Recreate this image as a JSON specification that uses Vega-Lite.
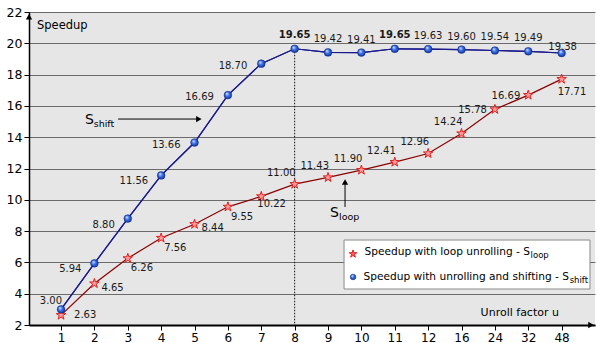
{
  "$schema": "https://vega.github.io/schema/vega-lite/v6.json",
  "width": 566,
  "height": 313,
  "autosize": {"type": "none"},
  "padding": {"left": 29, "top": 12, "right": 2, "bottom": 18},
  "background": "white",
  "config": {
    "view": {"fill": "#e6e6e6", "stroke": null},
    "text": {"font": "DejaVu Sans", "fontSize": 10, "color": "#1a1a1a"},
    "axis": {"labelFont": "DejaVu Sans"}
  },
  "resolve": {"axis": {"x": "independent", "y": "independent"}},
  "data": {"values": [
    {"u": 1, "i": 0, "loop": 2.63, "shift": 3.00},
    {"u": 2, "i": 1, "loop": 4.65, "shift": 5.94},
    {"u": 3, "i": 2, "loop": 6.26, "shift": 8.80},
    {"u": 4, "i": 3, "loop": 7.56, "shift": 11.56},
    {"u": 5, "i": 4, "loop": 8.44, "shift": 13.66},
    {"u": 6, "i": 5, "loop": 9.55, "shift": 16.69},
    {"u": 7, "i": 6, "loop": 10.22, "shift": 18.70},
    {"u": 8, "i": 7, "loop": 11.00, "shift": 19.65},
    {"u": 9, "i": 8, "loop": 11.43, "shift": 19.42},
    {"u": 10, "i": 9, "loop": 11.90, "shift": 19.41},
    {"u": 11, "i": 10, "loop": 12.41, "shift": 19.65},
    {"u": 12, "i": 11, "loop": 12.96, "shift": 19.63},
    {"u": 16, "i": 12, "loop": 14.24, "shift": 19.60},
    {"u": 24, "i": 13, "loop": 15.78, "shift": 19.54},
    {"u": 32, "i": 14, "loop": 16.69, "shift": 19.49},
    {"u": 48, "i": 15, "loop": 17.71, "shift": 19.38}
  ]},
  "layer": [
    {
      "mark": {"type": "line", "color": "#1a1a8e", "strokeWidth": 1.2},
      "encoding": {
        "x": {"field": "i", "type": "quantitative", "scale": {"domain": [-0.96, 16.0], "nice": false, "zero": false},
          "axis": {"values": [0,1,2,3,4,5,6,7,8,9,10,11,12,13,14,15], "labelExpr": "['1','2','3','4','5','6','7','8','9','10','11','12','16','24','32','48'][datum.value]", "title": null, "grid": false, "domainColor": "black", "domainWidth": 2, "tickColor": "black", "tickSize": 5, "labelFontSize": 12, "labelColor": "black", "labelPadding": 2, "labelFlush": false, "labelOverlap": false}},
        "y": {"field": "shift", "type": "quantitative", "scale": {"domain": [2, 22], "nice": false, "zero": false},
          "axis": {"values": [2,4,6,8,10,12,14,16,18,20,22], "title": null, "grid": true, "gridColor": "#6b6b6b", "gridWidth": 1, "domainColor": "black", "domainWidth": 1.5, "tickColor": "black", "tickSize": 5, "labelFontSize": 12.5, "labelColor": "black", "labelPadding": 2, "labelFlush": false, "labelOverlap": false}}
      }
    },
    {
      "transform": [{"filter": "datum.u == 8"}],
      "mark": {"type": "rule", "color": "#111111", "strokeWidth": 1, "strokeDash": [1.5, 1.5]},
      "encoding": {
        "x": {"field": "i", "type": "quantitative", "scale": {"domain": [-0.96, 16.0], "nice": false, "zero": false}, "axis": null},
        "y": {"field": "shift", "type": "quantitative", "scale": {"domain": [2, 22], "nice": false, "zero": false}, "axis": null},
        "y2": {"datum": 2}
      }
    },
    {
      "mark": {"type": "line", "color": "#1a1a8e", "strokeWidth": 1.2},
      "encoding": {
        "x": {"field": "i", "type": "quantitative", "scale": {"domain": [-0.96, 16.0], "nice": false, "zero": false}, "axis": null},
        "y": {"field": "shift", "type": "quantitative", "scale": {"domain": [2, 22], "nice": false, "zero": false}, "axis": null}
      }
    },
    {
      "mark": {"type": "line", "color": "#8b0000", "strokeWidth": 1.2},
      "encoding": {
        "x": {"field": "i", "type": "quantitative", "scale": {"domain": [-0.96, 16.0], "nice": false, "zero": false}, "axis": null},
        "y": {"field": "loop", "type": "quantitative", "scale": {"domain": [2, 22], "nice": false, "zero": false}, "axis": null}
      }
    },
    {
      "mark": {"type": "point", "shape": "M0,-1L0.223,-0.307L0.951,-0.309L0.361,0.117L0.588,0.809L0,0.38L-0.588,0.809L-0.361,0.117L-0.951,-0.309L-0.223,-0.307Z", "filled": true, "fill": "#ff9c9c", "stroke": "#e02020", "strokeWidth": 1, "size": 100, "opacity": 1},
      "encoding": {
        "x": {"field": "i", "type": "quantitative", "scale": {"domain": [-0.96, 16.0], "nice": false, "zero": false}, "axis": null},
        "y": {"field": "loop", "type": "quantitative", "scale": {"domain": [2, 22], "nice": false, "zero": false}, "axis": null}
      }
    },
    {
      "mark": {"type": "point", "shape": "circle", "filled": true, "size": 60, "opacity": 1, "stroke": "#102a80", "strokeWidth": 0.5,
        "fill": {"gradient": "radial", "x1": 0.35, "y1": 0.3, "r1": 0.02, "x2": 0.5, "y2": 0.5, "r2": 0.55, "stops": [{"offset": 0, "color": "#dfe9ff"}, {"offset": 0.45, "color": "#3d72e6"}, {"offset": 1, "color": "#0b2f9a"}]}},
      "encoding": {
        "x": {"field": "i", "type": "quantitative", "scale": {"domain": [-0.96, 16.0], "nice": false, "zero": false}, "axis": null},
        "y": {"field": "shift", "type": "quantitative", "scale": {"domain": [2, 22], "nice": false, "zero": false}, "axis": null}
      }
    },
    {
      "transform": [{"filter": {"field": "u", "oneOf": [1]}}],
      "mark": {"type": "text", "align": "right", "baseline": "middle", "dx": 1, "dy": -8},
      "encoding": {
        "x": {"field": "i", "type": "quantitative", "scale": {"domain": [-0.96, 16.0], "nice": false, "zero": false}, "axis": null},
        "y": {"field": "shift", "type": "quantitative", "scale": {"domain": [2, 22], "nice": false, "zero": false}, "axis": null},
        "text": {"field": "shift", "type": "quantitative", "format": ".2f"}
      }
    },
    {
      "transform": [{"filter": {"field": "u", "oneOf": [2, 3, 4]}}],
      "mark": {"type": "text", "align": "right", "baseline": "middle", "dx": -13, "dy": 6},
      "encoding": {
        "x": {"field": "i", "type": "quantitative", "scale": {"domain": [-0.96, 16.0], "nice": false, "zero": false}, "axis": null},
        "y": {"field": "shift", "type": "quantitative", "scale": {"domain": [2, 22], "nice": false, "zero": false}, "axis": null},
        "text": {"field": "shift", "type": "quantitative", "format": ".2f"}
      }
    },
    {
      "transform": [{"filter": {"field": "u", "oneOf": [5, 6, 7]}}],
      "mark": {"type": "text", "align": "right", "baseline": "middle", "dx": -14, "dy": 2},
      "encoding": {
        "x": {"field": "i", "type": "quantitative", "scale": {"domain": [-0.96, 16.0], "nice": false, "zero": false}, "axis": null},
        "y": {"field": "shift", "type": "quantitative", "scale": {"domain": [2, 22], "nice": false, "zero": false}, "axis": null},
        "text": {"field": "shift", "type": "quantitative", "format": ".2f"}
      }
    },
    {
      "transform": [{"filter": {"field": "u", "oneOf": [9, 10, 12, 16, 24, 32]}}],
      "mark": {"type": "text", "align": "center", "baseline": "middle", "dy": -13},
      "encoding": {
        "x": {"field": "i", "type": "quantitative", "scale": {"domain": [-0.96, 16.0], "nice": false, "zero": false}, "axis": null},
        "y": {"field": "shift", "type": "quantitative", "scale": {"domain": [2, 22], "nice": false, "zero": false}, "axis": null},
        "text": {"field": "shift", "type": "quantitative", "format": ".2f"}
      }
    },
    {
      "transform": [{"filter": {"field": "u", "oneOf": [8, 11]}}],
      "mark": {"type": "text", "align": "center", "baseline": "middle", "dy": -14, "fontWeight": "bold"},
      "encoding": {
        "x": {"field": "i", "type": "quantitative", "scale": {"domain": [-0.96, 16.0], "nice": false, "zero": false}, "axis": null},
        "y": {"field": "shift", "type": "quantitative", "scale": {"domain": [2, 22], "nice": false, "zero": false}, "axis": null},
        "text": {"field": "shift", "type": "quantitative", "format": ".2f"}
      }
    },
    {
      "transform": [{"filter": {"field": "u", "oneOf": [48]}}],
      "mark": {"type": "text", "align": "center", "baseline": "middle", "dx": 1, "dy": -6},
      "encoding": {
        "x": {"field": "i", "type": "quantitative", "scale": {"domain": [-0.96, 16.0], "nice": false, "zero": false}, "axis": null},
        "y": {"field": "shift", "type": "quantitative", "scale": {"domain": [2, 22], "nice": false, "zero": false}, "axis": null},
        "text": {"field": "shift", "type": "quantitative", "format": ".2f"}
      }
    },
    {
      "transform": [{"filter": {"field": "u", "oneOf": [1]}}],
      "mark": {"type": "text", "align": "left", "baseline": "middle", "dx": 13, "dy": 0},
      "encoding": {
        "x": {"field": "i", "type": "quantitative", "scale": {"domain": [-0.96, 16.0], "nice": false, "zero": false}, "axis": null},
        "y": {"field": "loop", "type": "quantitative", "scale": {"domain": [2, 22], "nice": false, "zero": false}, "axis": null},
        "text": {"field": "loop", "type": "quantitative", "format": ".2f"}
      }
    },
    {
      "transform": [{"filter": {"field": "u", "oneOf": [2, 5]}}],
      "mark": {"type": "text", "align": "left", "baseline": "middle", "dx": 7, "dy": 4},
      "encoding": {
        "x": {"field": "i", "type": "quantitative", "scale": {"domain": [-0.96, 16.0], "nice": false, "zero": false}, "axis": null},
        "y": {"field": "loop", "type": "quantitative", "scale": {"domain": [2, 22], "nice": false, "zero": false}, "axis": null},
        "text": {"field": "loop", "type": "quantitative", "format": ".2f"}
      }
    },
    {
      "transform": [{"filter": {"field": "u", "oneOf": [3, 4, 6]}}],
      "mark": {"type": "text", "align": "left", "baseline": "middle", "dx": 3, "dy": 10},
      "encoding": {
        "x": {"field": "i", "type": "quantitative", "scale": {"domain": [-0.96, 16.0], "nice": false, "zero": false}, "axis": null},
        "y": {"field": "loop", "type": "quantitative", "scale": {"domain": [2, 22], "nice": false, "zero": false}, "axis": null},
        "text": {"field": "loop", "type": "quantitative", "format": ".2f"}
      }
    },
    {
      "transform": [{"filter": {"field": "u", "oneOf": [7]}}],
      "mark": {"type": "text", "align": "left", "baseline": "middle", "dx": -4, "dy": 8},
      "encoding": {
        "x": {"field": "i", "type": "quantitative", "scale": {"domain": [-0.96, 16.0], "nice": false, "zero": false}, "axis": null},
        "y": {"field": "loop", "type": "quantitative", "scale": {"domain": [2, 22], "nice": false, "zero": false}, "axis": null},
        "text": {"field": "loop", "type": "quantitative", "format": ".2f"}
      }
    },
    {
      "transform": [{"filter": {"field": "u", "oneOf": [8, 9, 10, 11, 12, 16]}}],
      "mark": {"type": "text", "align": "right", "baseline": "middle", "dx": 1, "dy": -11},
      "encoding": {
        "x": {"field": "i", "type": "quantitative", "scale": {"domain": [-0.96, 16.0], "nice": false, "zero": false}, "axis": null},
        "y": {"field": "loop", "type": "quantitative", "scale": {"domain": [2, 22], "nice": false, "zero": false}, "axis": null},
        "text": {"field": "loop", "type": "quantitative", "format": ".2f"}
      }
    },
    {
      "transform": [{"filter": {"field": "u", "oneOf": [24, 32]}}],
      "mark": {"type": "text", "align": "right", "baseline": "middle", "dx": -8, "dy": 1},
      "encoding": {
        "x": {"field": "i", "type": "quantitative", "scale": {"domain": [-0.96, 16.0], "nice": false, "zero": false}, "axis": null},
        "y": {"field": "loop", "type": "quantitative", "scale": {"domain": [2, 22], "nice": false, "zero": false}, "axis": null},
        "text": {"field": "loop", "type": "quantitative", "format": ".2f"}
      }
    },
    {
      "transform": [{"filter": {"field": "u", "oneOf": [48]}}],
      "mark": {"type": "text", "align": "left", "baseline": "middle", "dx": -4, "dy": 13},
      "encoding": {
        "x": {"field": "i", "type": "quantitative", "scale": {"domain": [-0.96, 16.0], "nice": false, "zero": false}, "axis": null},
        "y": {"field": "loop", "type": "quantitative", "scale": {"domain": [2, 22], "nice": false, "zero": false}, "axis": null},
        "text": {"field": "loop", "type": "quantitative", "format": ".2f"}
      }
    },
    {
      "data": {"values": [{}]},
      "mark": {"type": "rect", "fill": "white", "stroke": "#8a8a8a", "strokeWidth": 1},
      "encoding": {
        "x": {"datum": 8.48, "type": "quantitative", "scale": {"domain": [-0.96, 16.0], "nice": false, "zero": false}, "axis": null},
        "x2": {"datum": 15.85},
        "y": {"datum": 4.3, "type": "quantitative", "scale": {"domain": [2, 22], "nice": false, "zero": false}, "axis": null},
        "y2": {"datum": 7.43}
      }
    },
    {
      "data": {"values": [{}]},
      "mark": {"type": "point", "shape": "M0,-1L0.223,-0.307L0.951,-0.309L0.361,0.117L0.588,0.809L0,0.38L-0.588,0.809L-0.361,0.117L-0.951,-0.309L-0.223,-0.307Z", "filled": true, "fill": "#ff6060", "stroke": "#e02020", "strokeWidth": 1, "size": 64, "opacity": 1},
      "encoding": {
        "x": {"datum": 8.75, "type": "quantitative", "scale": {"domain": [-0.96, 16.0], "nice": false, "zero": false}, "axis": null},
        "y": {"datum": 6.54, "type": "quantitative", "scale": {"domain": [2, 22], "nice": false, "zero": false}, "axis": null}
      }
    },
    {
      "data": {"values": [{}]},
      "mark": {"type": "point", "shape": "circle", "filled": true, "size": 32, "opacity": 1, "stroke": "#102a80", "strokeWidth": 0.5,
        "fill": {"gradient": "radial", "x1": 0.35, "y1": 0.3, "r1": 0.02, "x2": 0.5, "y2": 0.5, "r2": 0.55, "stops": [{"offset": 0, "color": "#dfe9ff"}, {"offset": 0.45, "color": "#3d72e6"}, {"offset": 1, "color": "#0b2f9a"}]}},
      "encoding": {
        "x": {"datum": 8.75, "type": "quantitative", "scale": {"domain": [-0.96, 16.0], "nice": false, "zero": false}, "axis": null},
        "y": {"datum": 5.07, "type": "quantitative", "scale": {"domain": [2, 22], "nice": false, "zero": false}, "axis": null}
      }
    },
    {
      "data": {"values": [{}]},
      "mark": {"type": "text", "align": "right", "baseline": "middle", "fontSize": 10.6, "color": "black", "text": "Speedup with loop unrolling - S"},
      "encoding": {
        "x": {"datum": 14.05, "type": "quantitative", "scale": {"domain": [-0.96, 16.0], "nice": false, "zero": false}, "axis": null},
        "y": {"datum": 6.66, "type": "quantitative", "scale": {"domain": [2, 22], "nice": false, "zero": false}, "axis": null}
      }
    },
    {
      "data": {"values": [{}]},
      "mark": {"type": "text", "align": "left", "baseline": "middle", "fontSize": 8.5, "color": "black", "text": "loop", "dy": 3},
      "encoding": {
        "x": {"datum": 14.07, "type": "quantitative", "scale": {"domain": [-0.96, 16.0], "nice": false, "zero": false}, "axis": null},
        "y": {"datum": 6.66, "type": "quantitative", "scale": {"domain": [2, 22], "nice": false, "zero": false}, "axis": null}
      }
    },
    {
      "data": {"values": [{}]},
      "mark": {"type": "text", "align": "right", "baseline": "middle", "fontSize": 10.6, "color": "black", "text": "Speedup with unrolling and shifting - S"},
      "encoding": {
        "x": {"datum": 15.22, "type": "quantitative", "scale": {"domain": [-0.96, 16.0], "nice": false, "zero": false}, "axis": null},
        "y": {"datum": 5.07, "type": "quantitative", "scale": {"domain": [2, 22], "nice": false, "zero": false}, "axis": null}
      }
    },
    {
      "data": {"values": [{}]},
      "mark": {"type": "text", "align": "left", "baseline": "middle", "fontSize": 8.5, "color": "black", "text": "shift", "dy": 3},
      "encoding": {
        "x": {"datum": 15.24, "type": "quantitative", "scale": {"domain": [-0.96, 16.0], "nice": false, "zero": false}, "axis": null},
        "y": {"datum": 5.07, "type": "quantitative", "scale": {"domain": [2, 22], "nice": false, "zero": false}, "axis": null}
      }
    },
    {
      "data": {"values": [{}]},
      "mark": {"type": "text", "align": "left", "baseline": "middle", "fontSize": 11.5, "color": "black", "text": "Speedup"},
      "encoding": {
        "x": {"datum": -0.72, "type": "quantitative", "scale": {"domain": [-0.96, 16.0], "nice": false, "zero": false}, "axis": null},
        "y": {"datum": 21.1, "type": "quantitative", "scale": {"domain": [2, 22], "nice": false, "zero": false}, "axis": null}
      }
    },
    {
      "data": {"values": [{}]},
      "mark": {"type": "text", "align": "right", "baseline": "middle", "fontSize": 11, "color": "black", "text": "Unroll factor u"},
      "encoding": {
        "x": {"datum": 14.92, "type": "quantitative", "scale": {"domain": [-0.96, 16.0], "nice": false, "zero": false}, "axis": null},
        "y": {"datum": 2.77, "type": "quantitative", "scale": {"domain": [2, 22], "nice": false, "zero": false}, "axis": null}
      }
    },
    {
      "data": {"values": [{}]},
      "mark": {"type": "text", "align": "left", "baseline": "middle", "fontSize": 14, "color": "black", "text": "S"},
      "encoding": {
        "x": {"datum": 0.72, "type": "quantitative", "scale": {"domain": [-0.96, 16.0], "nice": false, "zero": false}, "axis": null},
        "y": {"datum": 15.1, "type": "quantitative", "scale": {"domain": [2, 22], "nice": false, "zero": false}, "axis": null}
      }
    },
    {
      "data": {"values": [{}]},
      "mark": {"type": "text", "align": "left", "baseline": "middle", "fontSize": 9.5, "color": "black", "text": "shift"},
      "encoding": {
        "x": {"datum": 0.98, "type": "quantitative", "scale": {"domain": [-0.96, 16.0], "nice": false, "zero": false}, "axis": null},
        "y": {"datum": 14.84, "type": "quantitative", "scale": {"domain": [2, 22], "nice": false, "zero": false}, "axis": null}
      }
    },
    {
      "data": {"values": [{}]},
      "mark": {"type": "text", "align": "left", "baseline": "middle", "fontSize": 14, "color": "black", "text": "S"},
      "encoding": {
        "x": {"datum": 8.06, "type": "quantitative", "scale": {"domain": [-0.96, 16.0], "nice": false, "zero": false}, "axis": null},
        "y": {"datum": 9.16, "type": "quantitative", "scale": {"domain": [2, 22], "nice": false, "zero": false}, "axis": null}
      }
    },
    {
      "data": {"values": [{}]},
      "mark": {"type": "text", "align": "left", "baseline": "middle", "fontSize": 9.5, "color": "black", "text": "loop"},
      "encoding": {
        "x": {"datum": 8.33, "type": "quantitative", "scale": {"domain": [-0.96, 16.0], "nice": false, "zero": false}, "axis": null},
        "y": {"datum": 8.9, "type": "quantitative", "scale": {"domain": [2, 22], "nice": false, "zero": false}, "axis": null}
      }
    },
    {
      "data": {"values": [{}]},
      "mark": {"type": "rule", "color": "black", "strokeWidth": 1},
      "encoding": {
        "x": {"datum": 1.71, "type": "quantitative", "scale": {"domain": [-0.96, 16.0], "nice": false, "zero": false}, "axis": null},
        "x2": {"datum": 4.1},
        "y": {"datum": 15.16, "type": "quantitative", "scale": {"domain": [2, 22], "nice": false, "zero": false}, "axis": null}
      }
    },
    {
      "data": {"values": [{}]},
      "mark": {"type": "point", "shape": "triangle-right", "filled": true, "color": "black", "size": 40, "opacity": 1},
      "encoding": {
        "x": {"datum": 4.13, "type": "quantitative", "scale": {"domain": [-0.96, 16.0], "nice": false, "zero": false}, "axis": null},
        "y": {"datum": 15.16, "type": "quantitative", "scale": {"domain": [2, 22], "nice": false, "zero": false}, "axis": null}
      }
    },
    {
      "data": {"values": [{}]},
      "mark": {"type": "rule", "color": "black", "strokeWidth": 1},
      "encoding": {
        "x": {"datum": 8.51, "type": "quantitative", "scale": {"domain": [-0.96, 16.0], "nice": false, "zero": false}, "axis": null},
        "y": {"datum": 9.54, "type": "quantitative", "scale": {"domain": [2, 22], "nice": false, "zero": false}, "axis": null},
        "y2": {"datum": 11.1}
      }
    },
    {
      "data": {"values": [{}]},
      "mark": {"type": "point", "shape": "triangle-up", "filled": true, "color": "black", "size": 40, "opacity": 1},
      "encoding": {
        "x": {"datum": 8.51, "type": "quantitative", "scale": {"domain": [-0.96, 16.0], "nice": false, "zero": false}, "axis": null},
        "y": {"datum": 11.14, "type": "quantitative", "scale": {"domain": [2, 22], "nice": false, "zero": false}, "axis": null}
      }
    },
    {
      "data": {"values": [{}]},
      "mark": {"type": "point", "shape": "triangle-up", "filled": true, "color": "black", "size": 40, "opacity": 1},
      "encoding": {
        "x": {"datum": -0.96, "type": "quantitative", "scale": {"domain": [-0.96, 16.0], "nice": false, "zero": false}, "axis": null},
        "y": {"datum": 21.7, "type": "quantitative", "scale": {"domain": [2, 22], "nice": false, "zero": false}, "axis": null}
      }
    },
    {
      "data": {"values": [{}]},
      "mark": {"type": "point", "shape": "triangle-right", "filled": true, "color": "black", "size": 40, "opacity": 1},
      "encoding": {
        "x": {"datum": 15.88, "type": "quantitative", "scale": {"domain": [-0.96, 16.0], "nice": false, "zero": false}, "axis": null},
        "y": {"datum": 2, "type": "quantitative", "scale": {"domain": [2, 22], "nice": false, "zero": false}, "axis": null}
      }
    }
  ]
}
